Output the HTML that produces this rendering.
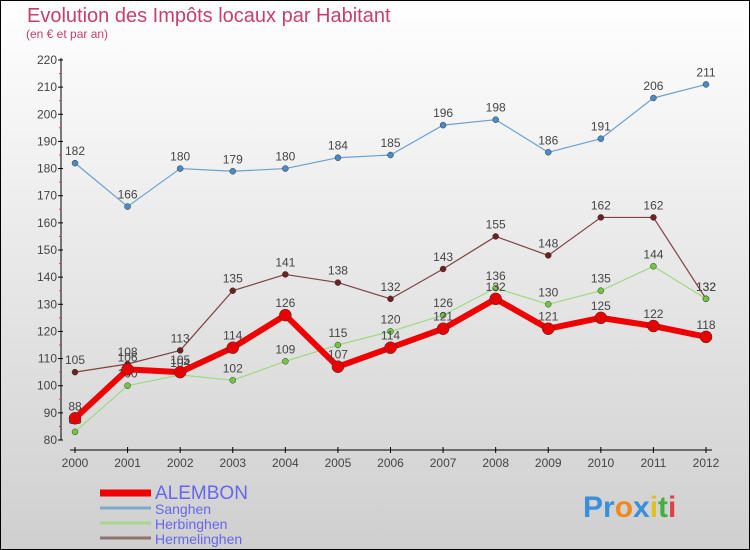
<!DOCTYPE html>
<html><head><meta charset="utf-8"><style>
body{margin:0;width:750px;height:550px;overflow:hidden;font-family:"Liberation Sans",sans-serif}
svg{display:block}
</style></head><body>
<svg id="chart" width="750" height="550">
<defs><linearGradient id="bg" x1="0" y1="0" x2="0" y2="1"><stop offset="0" stop-color="#ffffff"/><stop offset="1" stop-color="#cfcfcf"/></linearGradient></defs>
<rect x="0.5" y="0.5" width="749" height="549" fill="url(#bg)" stroke="#000"/>
<text x="27" y="22" font-size="20" fill="#c8406a">Evolution des Impôts locaux par Habitant</text>
<text x="26" y="38" font-size="12" fill="#c8406a">(en € et par an)</text>
<g id="axes"></g><g id="series"></g><g id="legend"></g>
<g font-size="30" font-weight="bold">
<text x="583" y="517"><tspan fill="#3a8fd8">Pr</tspan><tspan fill="#f08a20">o</tspan><tspan fill="#3a8fd8">x</tspan><tspan fill="#e0c020">i</tspan><tspan fill="#40b040">t</tspan><tspan fill="#e04040">i</tspan></text>
</g>
</svg>
<script>
const years=[2000,2001,2002,2003,2004,2005,2006,2007,2008,2009,2010,2011,2012];
const alembon=[88,106,105,114,126,107,114,121,132,121,125,122,118];
const sanghen=[182,166,180,179,180,184,185,196,198,186,191,206,211];
const herbinghen=[83,100,104,102,109,115,120,126,136,130,135,144,132];
const hermelinghen=[105,108,113,135,141,138,132,143,155,148,162,162,132];
const yTicks=[80,90,100,110,120,130,140,150,160,170,180,190,200,210,220];
const NS="http://www.w3.org/2000/svg";
function X(i){return 75+i*(706-75)/(years.length-1);}
function Y(v){return 440-(v-80)*380/140;}
function mk(t,a,p){const e=document.createElementNS(NS,t);for(const k in a)e.setAttribute(k,a[k]);p.appendChild(e);return e;}
const ax=document.getElementById('axes');
const yl=mk('line',{x1:61,y1:58,x2:61,y2:440,stroke:'#000'},ax);


yTicks.forEach((v,i)=>{
 mk('line',{x1:58,x2:63,y1:Y(v),y2:Y(v),stroke:'#000'},ax);
 if(i<yTicks.length-1) mk('line',{x1:59,x2:61,y1:Y(v+5),y2:Y(v+5),stroke:'#f33'},ax);
 const t=mk('text',{x:57,y:Y(v)+4,'text-anchor':'end','font-size':12,fill:'#444'},ax);t.textContent=v;
 
 
});
const xl=mk('line',{x1:70,y1:450,x2:712,y2:450,stroke:'#000'},ax);


years.forEach((y,i)=>{
 mk('line',{x1:X(i),x2:X(i),y1:447,y2:453,stroke:'#000'},ax);
 const t=mk('text',{x:X(i),y:467,'text-anchor':'middle','font-size':12,fill:'#444'},ax);t.textContent=y;
 
 
});
const sg=document.getElementById('series');
function series(name,data,color,w,r,dot){
 const g=mk('g',{},sg);
 
 
 mk('polyline',{points:data.map((v,i)=>X(i)+','+Y(v)).join(' '),fill:'none',stroke:color,'stroke-width':w,'stroke-linejoin':'round'},g);
 data.forEach((v,i)=>{
  const c=mk('circle',{cx:X(i),cy:Y(v),r:r,fill:dot,stroke:'#333','stroke-width':0.5},g);
  
  
  const t=mk('text',{x:X(i),y:Y(v)-8,'text-anchor':'middle','font-size':12,fill:'#444'},g);t.textContent=v;
  
  
 });
}
series('sanghen',sanghen,'#6aa0d0',1.2,3,'#4a8ac8');
series('hermelinghen',hermelinghen,'#804040',1.2,3,'#702020');
series('herbinghen',herbinghen,'#a0d880',1.2,3,'#70c840');
series('alembon',alembon,'#f00000',6,6,'#e80000');
const lg=document.getElementById('legend');
const items=[['ALEMBON','#f00000',7,16],['Sanghen','#80a8c8',3,11],['Herbinghen','#a8d890',3,11],['Hermelinghen','#907070',3,11]];
const ly=[493,508,523,538];
items.forEach((it,i)=>{
 const g=mk('g',{},lg);
 
 
 mk('line',{x1:100,x2:151,y1:ly[i],y2:ly[i],stroke:it[1],'stroke-width':it[2]},g);
 const t=mk('text',{x:155,y:ly[i]+6,'font-size':it[3]+3,fill:'#6666ee'},g);t.textContent=it[0];
});
</script>
</body></html>
